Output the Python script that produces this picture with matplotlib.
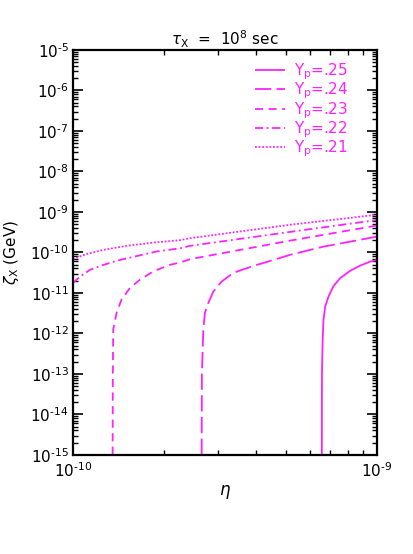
import numpy as np
import matplotlib
matplotlib.use('Agg')
import matplotlib.pyplot as plt
from matplotlib.ticker import LogLocator, NullFormatter, FixedLocator, FuncFormatter

# Eta (baryon-to-photon ratio) vs zeta_X (GeV)
eta_25 = [6.58e-10, 6.585e-10, 6.62e-10, 6.66e-10, 6.75e-10, 6.92e-10, 7.18e-10,
          7.55e-10, 8.15e-10, 8.79e-10, 9.48e-10, 1.0e-9]
zeta_25 = [1e-15, 1e-13, 6.9e-13, 2.1e-12, 4.6e-12, 8.1e-12, 1.45e-11,
           2.3e-11, 3.5e-11, 4.7e-11, 5.9e-11, 6.5e-11]

eta_24 = [2.65e-10, 2.655e-10, 2.683e-10, 2.716e-10, 2.786e-10, 2.894e-10, 3.083e-10,
          3.365e-10, 3.63e-10, 4.02e-10, 4.56e-10, 5.18e-10, 6.65e-10, 1.0e-9]
zeta_24 = [1e-15, 1e-13, 1.23e-12, 3.2e-12, 5.6e-12, 1.07e-11, 1.9e-11,
           3.1e-11, 3.8e-11, 4.9e-11, 6.5e-11, 8.7e-11, 1.38e-10, 2.45e-10]

eta_23 = [1.351e-10, 1.353e-10, 1.357e-10, 1.392e-10, 1.445e-10, 1.54e-10, 1.66e-10,
          1.84e-10, 2.08e-10, 2.25e-10, 2.43e-10, 5.18e-10, 1.0e-9]
zeta_23 = [1e-15, 1e-13, 1.23e-12, 3.2e-12, 6.8e-12, 1.32e-11, 2.1e-11,
           3.4e-11, 4.9e-11, 5.6e-11, 6.8e-11, 1.95e-10, 4.6e-10]

eta_22 = [1.0e-10, 1.054e-10, 1.138e-10, 1.259e-10, 1.429e-10, 1.622e-10, 1.884e-10,
          2.25e-10, 2.43e-10, 5.18e-10, 1.0e-9]
zeta_22 = [1.74e-11, 2.5e-11, 3.7e-11, 4.9e-11, 6.5e-11, 8.1e-11, 1.05e-10,
           1.26e-10, 1.45e-10, 3.2e-10, 6.3e-10]

eta_21 = [1.0e-10, 1.109e-10, 1.259e-10, 1.503e-10, 1.837e-10, 2.25e-10, 2.43e-10,
          5.18e-10, 1.0e-9]
zeta_21 = [6.8e-11, 9.1e-11, 1.15e-10, 1.45e-10, 1.74e-10, 2.0e-10, 2.24e-10,
           4.8e-10, 8.5e-10]

labels = ['.25', '.24', '.23', '.22', '.21']

MAGENTA = '#ff22ff'


def pow10(v, pos):
    # short hyphen instead of the wide math minus, like the original labels
    e = int(round(np.log10(v)))
    s = str(e).replace('-', '\u2010')
    return r'$10^{' + s + '}$'


fig = plt.figure(figsize=(4.14, 5.54), dpi=100)
ax = fig.add_axes([0.176, 0.179, 0.735, 0.731])

styles = [
    (eta_25, zeta_25, (0, ())),
    (eta_24, zeta_24, (0, (9, 3))),
    (eta_23, zeta_23, (0, (4.5, 3))),
    (eta_22, zeta_22, (0, (4.5, 2, 1, 2))),
    (eta_21, zeta_21, (0, (1, 1))),
]
for (x, y, ls), lab in zip(styles, labels):
    ax.plot(x, y, color=MAGENTA, lw=1.3, linestyle=ls,
            label=r'$\mathrm{Y_p}$=' + lab)

ax.set_xscale('log')
ax.set_yscale('log')
ax.set_xlim(1e-10, 1e-9)
ax.set_ylim(1e-15, 1e-5)

ax.xaxis.set_major_locator(FixedLocator([1e-10, 1e-9]))
ax.xaxis.set_minor_locator(LogLocator(base=10, subs=np.arange(2, 10)))
ax.xaxis.set_minor_formatter(NullFormatter())
ax.yaxis.set_major_locator(LogLocator(base=10, numticks=20))
ax.yaxis.set_minor_locator(LogLocator(base=10, subs=np.arange(2, 10), numticks=20))
ax.yaxis.set_minor_formatter(NullFormatter())
ax.xaxis.set_major_formatter(FuncFormatter(pow10))
ax.yaxis.set_major_formatter(FuncFormatter(pow10))

ax.tick_params(which='both', direction='in', top=True, right=True, labelsize=11)
ax.tick_params(which='major', length=7, width=1.2, pad=3)
ax.tick_params(which='minor', length=3.5, width=1.0)
ax.tick_params(axis='x', which='major', pad=5)
for sp in ax.spines.values():
    sp.set_linewidth(1.6)

ax.set_title(r'$\tau_{\mathrm{X}}$  =  10$^{8}$ sec', fontsize=11, pad=3)
ax.set_ylabel(r'$\zeta_{\mathrm{X}}$ (GeV)', fontsize=11)
ax.yaxis.set_label_coords(-0.172, 0.5)
ax.set_xlabel(r'$\eta$', fontsize=12, labelpad=2)

leg = ax.legend(loc='upper right', frameon=False, fontsize=11, labelcolor=MAGENTA,
                handlelength=2.0, handletextpad=0.6, labelspacing=-0.08,
                borderpad=0, borderaxespad=0, bbox_to_anchor=(0.905, 0.972))

fig.savefig('out.png', dpi=100)
